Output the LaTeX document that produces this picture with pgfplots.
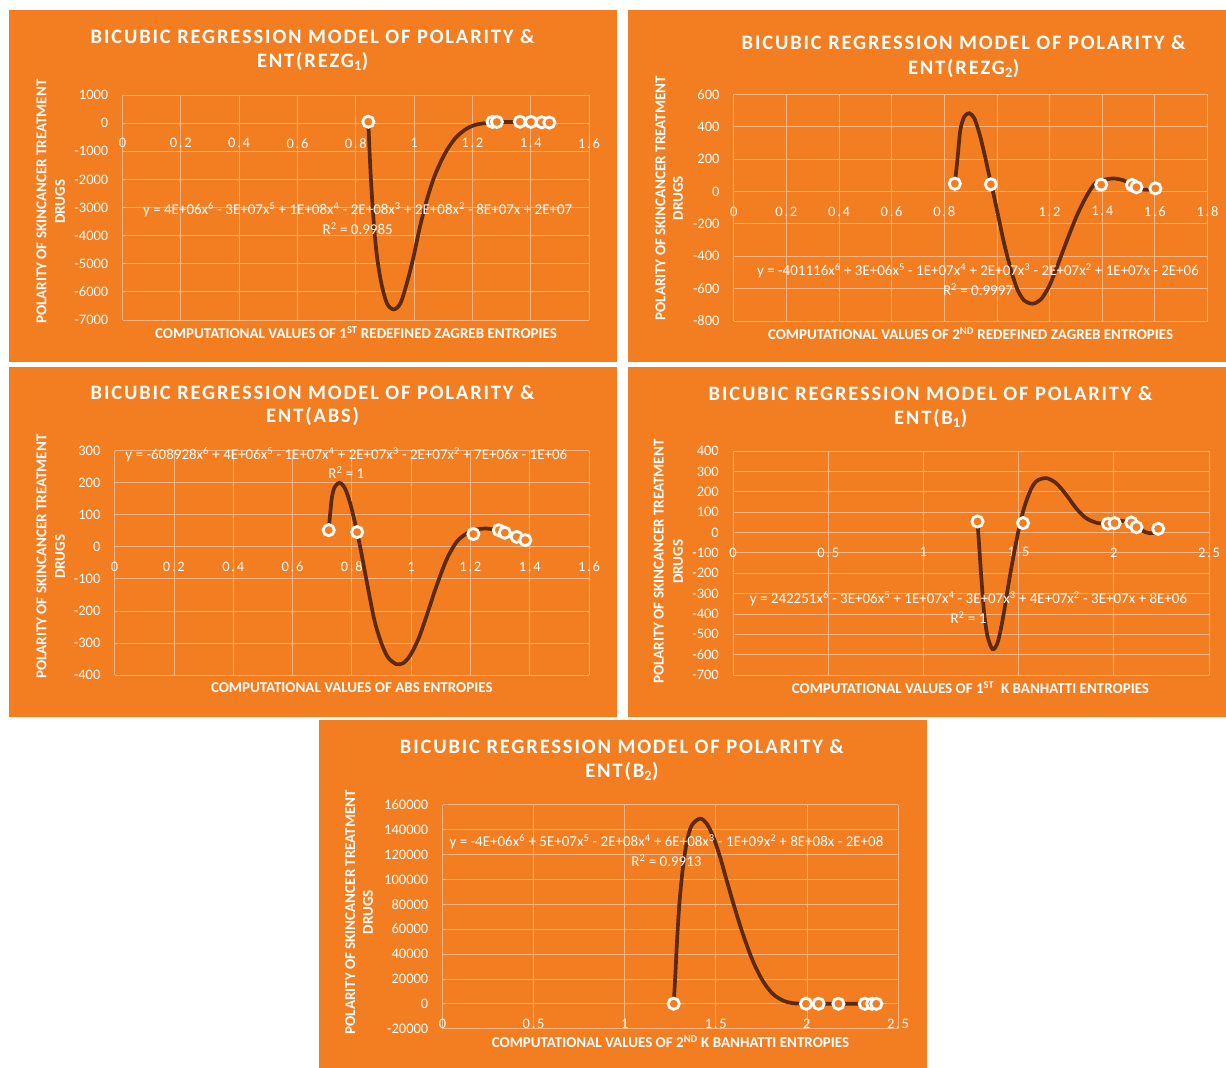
\documentclass[border=0pt]{standalone}
\usepackage{fontspec}
\setmainfont{Carlito}
\newfontfamily\titlefont{Carlito}[LetterSpace=9]
\newfontfamily\xtfont{Carlito}[LetterSpace=12]
\usepackage{pgfplots}
\pgfplotsset{compat=1.18}
\definecolor{bg}{RGB}{243,125,33}
\definecolor{gridc}{RGB}{249,183,135}
\definecolor{trend}{RGB}{92,42,12}

\pgfplotsset{
  panel/.style={
    scale only axis, anchor=south west,
    axis x line=middle, axis y line=left,
    axis line style={draw=gridc, line width=0.8pt, -},
    grid=major, major grid style={draw=gridc, line width=0.8pt},
    major tick length=0pt,
    scaled x ticks=false, scaled y ticks=false,
    hide obscured x ticks=false, hide obscured y ticks=false,
    xticklabel style={font=\fontsize{14.5}{16}\xtfont, text=white, inner sep=0pt, anchor=north, yshift=-15pt},
    yticklabel style={font=\fontsize{14.5}{16}\selectfont, text=white, inner sep=0pt, anchor=east, xshift=-14pt},
    enlargelimits=false, clip=false,
  },
  trendline/.style={draw=trend, line width=3.7pt, smooth, no markers},
  pts/.style={only marks, mark=*, mark size=5.6pt, mark options={fill=bg, draw=white, line width=2.8pt}},
}

\newcommand\paneltitle[4]{%
  \node[text=white, inner sep=0pt, font=\fontsize{20.5}{22}\titlefont\bfseries] at (#1,#2) {BICUBIC REGRESSION MODEL OF POLARITY \&};
  \node[text=white, inner sep=0pt, font=\fontsize{20.5}{22}\titlefont\bfseries] at (#1,#3) {#4};}
\newcommand\ylab[3]{%
  \node[text=white, inner sep=0pt, rotate=90, font=\fontsize{15}{17}\selectfont\bfseries] at (#1,#3) {POLARITY OF SKINCANCER TREATMENT};
  \node[text=white, inner sep=0pt, rotate=90, font=\fontsize{15}{17}\selectfont\bfseries] at (#2,#3) {DRUGS};}
\newcommand\xlab[3]{%
  \node[text=white, inner sep=0pt, font=\fontsize{15}{17}\selectfont\bfseries] at (#1,#2) {#3};}
\newcommand\eqn[5]{%
  \node[text=white, inner sep=0pt, font=\fontsize{15}{17}\selectfont] at (#1,#2) {#3};
  \node[text=white, inner sep=0pt, font=\fontsize{15}{17}\selectfont] at (#1,#4) {R\textsuperscript{2} = #5};}

\begin{document}
\begin{tikzpicture}[x=1pt,y=1pt]
\fill[white] (0,0) rectangle (1226,1068);
% orange chart areas
\fill[bg] (9,706) rectangle (617,1058);
\fill[bg] (628,706) rectangle (1226,1058);
\fill[bg] (9,351) rectangle (617,701);
\fill[bg] (628,351) rectangle (1226,701);
\fill[bg] (319,0) rectangle (927,348);

% ---------- 1st redefined Zagreb ----------
\begin{axis}[panel, at={(122.5pt,748pt)}, width=466.5pt, height=225pt,
  xmin=0, xmax=1.6, ymin=-7000, ymax=1000,
  xtick={0,0.2,0.4,0.6,0.8,1,1.2,1.4,1.6},
  xticklabels={0,0.2,0.4,0.6,0.8,1,1.2,1.4,1.6},
  ytick={-7000,-6000,-5000,-4000,-3000,-2000,-1000,0,1000},
  yticklabels={-7000,-6000,-5000,-4000,-3000,-2000,-1000,0,1000}]
\addplot[trendline] coordinates {(0.843,40) (0.851,-1806) (0.862,-3577) (0.873,-4758) (0.888,-5703) (0.907,-6411) (0.930,-6624) (0.953,-6411) (0.975,-5703) (0.998,-4758) (1.020,-3695) (1.043,-2751) (1.071,-1865) (1.105,-1098) (1.139,-567) (1.173,-248) (1.207,-71) (1.252,10) (1.30,35) (1.35,40) (1.40,38) (1.464,25)};
\addplot[pts] coordinates {(0.843,50) (1.269,45) (1.284,42) (1.363,50) (1.401,42) (1.438,30) (1.464,20)};
\end{axis}
\paneltitle{312.6}{1031.3}{1006.3}{ENT(REZG\textsubscript{1})}
\ylab{41.5}{60}{866.3}
\xlab{356}{735.3}{COMPUTATIONAL VALUES OF 1\textsuperscript{ST} REDEFINED ZAGREB ENTROPIES}
\eqn{357.7}{858}{y = 4E+06x\textsuperscript{6} - 3E+07x\textsuperscript{5} + 1E+08x\textsuperscript{4} - 2E+08x\textsuperscript{3} + 2E+08x\textsuperscript{2} - 8E+07x + 2E+07}{839}{0.9985}

% ---------- 2nd redefined Zagreb ----------
\begin{axis}[panel, at={(733.7pt,747pt)}, width=473.8pt, height=226.7pt,
  xmin=0, xmax=1.8, ymin=-800, ymax=600,
  xtick={0,0.2,0.4,0.6,0.8,1,1.2,1.4,1.6,1.8},
  xticklabels={0,0.2,0.4,0.6,0.8,1,1.2,1.4,1.6,1.8},
  ytick={-800,-600,-400,-200,0,200,400,600},
  yticklabels={-800,-600,-400,-200,0,200,400,600}]
\addplot[trendline] coordinates {(0.840,47) (0.851,216) (0.861,380) (0.876,462) (0.895,483) (0.914,452) (0.933,360) (0.952,236) (0.970,103) (0.989,-31) (1.008,-175) (1.027,-319) (1.053,-483) (1.078,-606) (1.103,-672) (1.135,-693) (1.166,-668) (1.198,-586) (1.229,-462) (1.267,-298) (1.305,-144) (1.343,-21) (1.374,51) (1.406,72) (1.444,80) (1.482,68) (1.513,41) (1.545,14) (1.576,10) (1.602,21)};
\addplot[pts] coordinates {(0.840,48) (0.977,44) (1.396,42) (1.513,40) (1.530,26) (1.602,19)};
\end{axis}
\paneltitle{963.6}{1025.7}{999.7}{ENT(REZG\textsubscript{2})}
\ylab{660.6}{678}{869.7}
\xlab{970.6}{734.7}{COMPUTATIONAL VALUES OF 2\textsuperscript{ND} REDEFINED ZAGREB ENTROPIES}
\eqn{978}{797.3}{y = -401116x\textsuperscript{6} + 3E+06x\textsuperscript{5} - 1E+07x\textsuperscript{4} + 2E+07x\textsuperscript{3} - 2E+07x\textsuperscript{2} + 1E+07x - 2E+06}{778.7}{0.9997}

% ---------- ABS ----------
\begin{axis}[panel, at={(114.6pt,393pt)}, width=474.4pt, height=224.3pt,
  xmin=0, xmax=1.6, ymin=-400, ymax=300,
  xtick={0,0.2,0.4,0.6,0.8,1,1.2,1.4,1.6},
  xticklabels={0,0.2,0.4,0.6,0.8,1,1.2,1.4,1.6},
  ytick={-400,-300,-200,-100,0,100,200,300},
  yticklabels={-400,-300,-200,-100,0,100,200,300}]
\addplot[trendline] coordinates {(0.722,53) (0.727,103) (0.733,155) (0.742,186) (0.758,200) (0.775,186) (0.792,144) (0.809,82) (0.826,10) (0.843,-72) (0.860,-155) (0.877,-232) (0.899,-299) (0.922,-345) (0.950,-366) (0.973,-363) (0.996,-340) (1.024,-289) (1.052,-216) (1.085,-124) (1.119,-41) (1.153,15) (1.186,41) (1.220,54) (1.255,57) (1.288,52) (1.322,41) (1.356,31) (1.390,19)};
\addplot[pts] coordinates {(0.722,52) (0.818,46) (1.210,40) (1.296,52) (1.316,44) (1.356,31) (1.385,21)};
\end{axis}
\paneltitle{312.6}{675.7}{651.3}{ENT(ABS)}
\ylab{41.5}{60}{511.3}
\xlab{351.8}{380.3}{COMPUTATIONAL VALUES OF ABS ENTROPIES}
\eqn{346.4}{613.7}{y = -608928x\textsuperscript{6} + 4E+06x\textsuperscript{5} - 1E+07x\textsuperscript{4} + 2E+07x\textsuperscript{3} - 2E+07x\textsuperscript{2} + 7E+06x - 1E+06}{595.7}{1}

% ---------- 1st K Banhatti ----------
\begin{axis}[panel, at={(733pt,393pt)}, width=476pt, height=224pt,
  xmin=0, xmax=2.5, ymin=-700, ymax=400,
  xtick={0,0.5,1,1.5,2,2.5},
  xticklabels={0,0.5,1,1.5,2,2.5},
  ytick={-700,-600,-500,-400,-300,-200,-100,0,100,200,300,400},
  yticklabels={-700,-600,-500,-400,-300,-200,-100,0,100,200,300,400}]
\addplot[trendline] coordinates {(1.284,54) (1.293,-69) (1.305,-232) (1.319,-396) (1.337,-511) (1.363,-573) (1.389,-543) (1.416,-429) (1.451,-232) (1.486,-52) (1.521,95) (1.556,193) (1.591,250) (1.644,267) (1.697,242) (1.750,185) (1.802,119) (1.855,70) (1.917,46) (1.978,46) (2.040,57) (2.083,49) (2.127,21) (2.171,0) (2.206,-3) (2.233,16)};
\addplot[pts] coordinates {(1.284,54) (1.523,46) (1.969,43) (2.004,46) (2.092,49) (2.119,26) (2.233,18)};
\end{axis}
\paneltitle{930.6}{674.7}{649.7}{ENT(B\textsubscript{1})}
\ylab{658.7}{678}{506.3}
\xlab{970.4}{380.3}{COMPUTATIONAL VALUES OF 1\textsuperscript{ST}\ \ K BANHATTI ENTROPIES}
\eqn{968.5}{469.7}{y = 242251x\textsuperscript{6} - 3E+06x\textsuperscript{5} + 1E+07x\textsuperscript{4} - 3E+07x\textsuperscript{3} + 4E+07x\textsuperscript{2} - 3E+07x + 8E+06}{450.7}{1}

% ---------- 2nd K Banhatti ----------
\begin{axis}[panel, at={(442.5pt,39.3pt)}, width=455.5pt, height=224pt,
  xmin=0, xmax=2.5, ymin=-20000, ymax=160000,
  xtick={0,0.5,1,1.5,2,2.5},
  xticklabels={0,0.5,1,1.5,2,2.5},
  ytick={-20000,0,20000,40000,60000,80000,100000,120000,140000,160000},
  yticklabels={-20000,0,20000,40000,60000,80000,100000,120000,140000,160000}]
\addplot[trendline] coordinates {(1.269,0) (1.278,23467) (1.287,50133) (1.301,82133) (1.319,108800) (1.341,130133) (1.368,143467) (1.414,148800) (1.450,144800) (1.486,134133) (1.523,118133) (1.559,99467) (1.604,76800) (1.650,55467) (1.704,34133) (1.759,18133) (1.813,8000) (1.868,2667) (1.922,533) (1.995,0) (2.10,0) (2.25,0) (2.376,0)};
\addplot[pts] coordinates {(1.269,50) (1.995,48) (2.064,45) (2.173,42) (2.318,40) (2.358,30) (2.381,20)};
\end{axis}
\paneltitle{621.9}{321.7}{296.7}{ENT(B\textsubscript{2})}
\ylab{350.3}{368}{155.8}
\xlab{670.5}{26.7}{COMPUTATIONAL VALUES OF 2\textsuperscript{ND} K BANHATTI ENTROPIES}
\eqn{666.5}{226}{y = -4E+06x\textsuperscript{6} + 5E+07x\textsuperscript{5} - 2E+08x\textsuperscript{4} + 6E+08x\textsuperscript{3} - 1E+09x\textsuperscript{2} + 8E+08x - 2E+08}{207.3}{0.9913}

\pgfresetboundingbox
\useasboundingbox (0,0) rectangle (1226,1068);
\end{tikzpicture}
\end{document}
